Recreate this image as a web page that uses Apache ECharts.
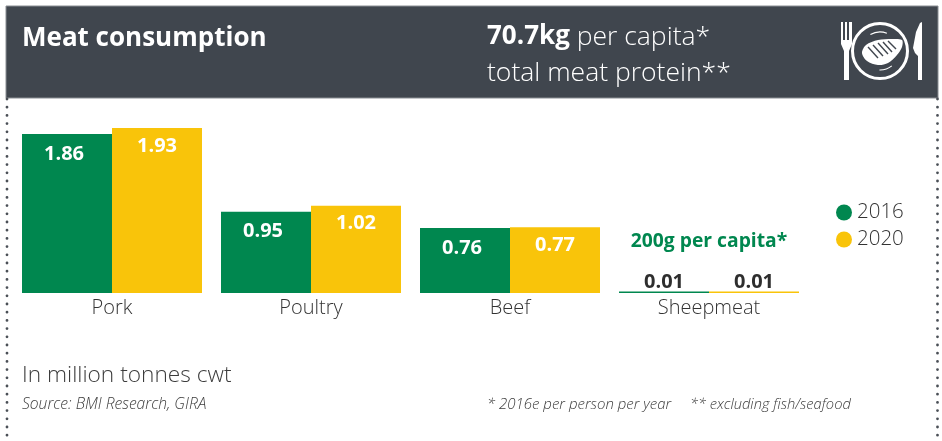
<!DOCTYPE html>
<html>
<head>
<meta charset="utf-8">
<style>
  html, body { margin: 0; padding: 0; background: #fff; }
  #chart { width: 942px; height: 441px; }
</style>
<script src="https://cdn.jsdelivr.net/npm/echarts@6/dist/echarts.min.js"></script>
</head>
<body>
<div id="chart"></div>
<script>
var categories = ['Pork', 'Poultry', 'Beef', 'Sheepmeat'];
var values2016 = [1.86, 0.95, 0.76, 0.01];
var values2020 = [1.93, 1.02, 0.77, 0.01];

var GREEN = '#00874f';
var YELLOW = '#f9c40a';
var DARK = '#40464e';
var FONT = '"Open Sans", Lato, sans-serif';

// small bars get their number above in dark, others inside in white
function barData(values, offset, shiftX) {
  return values.map(function (v) {
    if (v < 0.1) {
      return {
        value: v,
        label: { position: 'top', distance: -1, color: '#2e2e2e' }
      };
    }
    return { value: v, label: { position: 'insideTop', distance: offset, offset: [shiftX, 0] } };
  });
}

function makeSeries(name, values, color, offset, shiftX) {
  return {
    name: name,
    type: 'bar',
    barWidth: 90,
    barGap: 0,
    barMinHeight: 1.5,
    itemStyle: { color: color },
    label: {
      show: true,
      color: '#fff',
      fontFamily: FONT,
      fontWeight: 'bold',
      fontSize: 20,
      formatter: function (p) { return p.value.toFixed(2); }
    },
    data: barData(values, offset, shiftX)
  };
}

var dottedLine = function (x) {
  return {
    type: 'line',
    shape: { x1: x, y1: 99, x2: x, y2: 441 },
    style: { stroke: '#4a4f56', lineWidth: 2.8, lineDash: [0, 8.2], lineCap: 'round' }
  };
};

var chart = echarts.init(document.getElementById('chart'));
chart.setOption({
  animation: false,
  backgroundColor: '#fff',
  grid: { left: 12.5, width: 796, top: 122, height: 171 },
  xAxis: {
    type: 'category',
    data: categories,
    axisLine: { show: false },
    axisTick: { show: false },
    axisLabel: { color: '#333', fontFamily: FONT, fontWeight: 300, fontSize: 20, margin: 5 }
  },
  yAxis: { type: 'value', min: 0, max: 2, show: false, splitLine: { show: false } },
  legend: {
    orient: 'vertical',
    left: 831,
    top: 197,
    itemWidth: 16,
    itemHeight: 16,
    itemGap: 6,
    icon: 'circle',
    textStyle: { color: '#333', fontFamily: FONT, fontWeight: 300, fontSize: 20.5, padding: [0, 0, 0, 0] },
    data: ['2016', '2020']
  },
  series: [
    makeSeries('2016', values2016, GREEN, 10, -3),
    makeSeries('2020', values2020, YELLOW, 8, 0)
  ],
  graphic: [
    // header band
    { type: 'rect', shape: { x: 6, y: 6, width: 932, height: 92 },
      style: { fill: DARK, stroke: '#8a8e93', lineWidth: 1 } },
    dottedLine(7),
    dottedLine(937.5),
    { type: 'text', x: 22, y: 26, style: {
      text: 'Meat consumption', fill: '#fff', font: 'bold 26px ' + FONT } },
    { type: 'text', x: 487, y: 19, style: {
      text: '{b|70.7kg} per capita*\ntotal meat protein**',
      fill: '#fff', font: '300 26.5px ' + FONT, lineHeight: 36,
      rich: { b: { fontWeight: 'bold', fontSize: 26, fontFamily: FONT, fill: '#fff' } } } },
    // fork
    { type: 'polygon', shape: { points: [[841, 22], [843, 22], [843, 40], [845, 40], [845, 22], [847, 22], [847, 40], [849, 40], [849, 22], [852, 22], [852, 44], [849, 51], [849, 80], [844, 80], [844, 51], [841, 44]] },
      style: { fill: '#fff' } },
    // plate
    { type: 'circle', shape: { cx: 880, cy: 51, r: 27.5 }, style: { fill: 'none', stroke: '#fff', lineWidth: 3 } },
    // steak
    { type: 'polygon', shape: { smooth: 0.3, points: [[862, 53], [866, 45], [878, 40], [892, 39], [902, 40], [902, 47], [897, 55], [888, 63], [878, 65], [867, 61]] },
      style: { fill: '#fff' } },
    { type: 'line', shape: { x1: 868, y1: 47, x2: 878, y2: 58 }, style: { stroke: DARK, lineWidth: 1.4 } },
    { type: 'line', shape: { x1: 873, y1: 45, x2: 883, y2: 56 }, style: { stroke: DARK, lineWidth: 1.4 } },
    { type: 'line', shape: { x1: 878, y1: 43, x2: 888, y2: 54 }, style: { stroke: DARK, lineWidth: 1.4 } },
    { type: 'line', shape: { x1: 883, y1: 42, x2: 892, y2: 52 }, style: { stroke: DARK, lineWidth: 1.4 } },
    { type: 'line', shape: { x1: 888, y1: 41, x2: 896, y2: 49 }, style: { stroke: DARK, lineWidth: 1.4 } },
    { type: 'arc', shape: { cx: 880, cy: 51, r: 19, startAngle: -2.1, endAngle: -1.2 },
      style: { fill: 'none', stroke: '#fff', lineWidth: 1.2 } },
    { type: 'arc', shape: { cx: 880, cy: 51, r: 19, startAngle: 0.9, endAngle: 1.6 },
      style: { fill: 'none', stroke: '#fff', lineWidth: 1.2 } },
    // knife
    { type: 'polygon', shape: { points: [[922, 22], [920, 23], [916, 32], [913, 48], [915, 53], [918, 56], [918, 80], [922, 80]] },
      style: { fill: '#fff' } },
    // notes
    { type: 'text', x: 709, y: 242, style: {
      text: '200g per capita*', fill: GREEN, font: 'bold 19.3px ' + FONT,
      textAlign: 'center', textVerticalAlign: 'middle' } },
    { type: 'text', x: 22, y: 364, style: {
      text: 'In million tonnes cwt', fill: '#3c3c3c', font: '300 22.7px ' + FONT } },
    { type: 'text', x: 22, y: 397, style: {
      text: 'Source: BMI Research, GIRA', fill: '#3c3c3c', font: 'italic 300 15.6px ' + FONT } },
    { type: 'text', x: 487, y: 397, style: {
      text: '* 2016e per person per year', fill: '#3c3c3c', font: 'italic 300 15px ' + FONT } },
    { type: 'text', x: 690, y: 397, style: {
      text: '** excluding fish/seafood', fill: '#3c3c3c', font: 'italic 300 14.7px ' + FONT } }
  ]
});
</script>
</body>
</html>
